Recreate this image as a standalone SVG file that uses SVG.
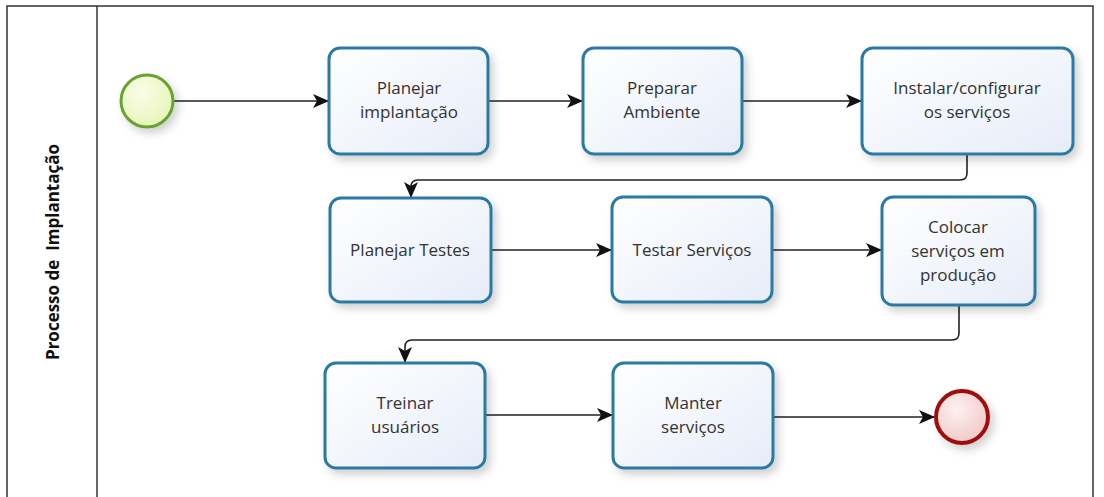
<svg xmlns="http://www.w3.org/2000/svg" width="1104" height="497" viewBox="0 0 1104 497">
<style>
.task{fill:url(#tg);stroke:#2a7aa3;stroke-width:3;filter:url(#sh)}
.t{font-family:"Open Sans","Noto Sans",sans-serif;font-size:17px;fill:#333;text-anchor:middle}
.c{fill:none;stroke:#222;stroke-width:1.6}
</style>
<defs>
<linearGradient id="tg" x1="0" y1="0" x2="1" y2="1"><stop offset="0" stop-color="#ffffff"/><stop offset="1" stop-color="#e6ecf8"/></linearGradient>
<radialGradient id="sg" cx="0.4" cy="0.35" r="0.7"><stop offset="0" stop-color="#fbfde8"/><stop offset="1" stop-color="#e6f4b8"/></radialGradient>
<radialGradient id="eg" cx="0.4" cy="0.35" r="0.7"><stop offset="0" stop-color="#fdf0f0"/><stop offset="1" stop-color="#f1c8c8"/></radialGradient>
<filter id="sh" x="-20%" y="-20%" width="150%" height="150%"><feDropShadow dx="4" dy="5" stdDeviation="4" flood-color="#000" flood-opacity="0.18"/></filter>
<marker id="a" markerWidth="16" markerHeight="16" viewBox="0 0 16 16" refX="15" refY="8" orient="auto" markerUnits="userSpaceOnUse"><path d="M0,1 L16,8 L0,15 L4,8 Z" fill="#111"/></marker>
</defs>
<rect width="1104" height="497" fill="#fff"/>
<g id="pool">
<path d="M7,497 V6 H1093 V497" fill="none" stroke="#333" stroke-width="1.5"/>
<line x1="97" y1="6" x2="97" y2="497" stroke="#333" stroke-width="1.5"/>
<text transform="translate(59,252) rotate(-90)" font-family="'Open Sans','Noto Sans',sans-serif" font-size="17" font-weight="bold" fill="#111" text-anchor="middle" xml:space="preserve">Processo de  Implantação</text>
</g>
<g id="connectors">
<line class="c" x1="174" y1="101" x2="328" y2="101" marker-end="url(#a)"/>
<line class="c" x1="488" y1="101" x2="582" y2="101" marker-end="url(#a)"/>
<line class="c" x1="742" y1="101" x2="861" y2="101" marker-end="url(#a)"/>
<path class="c" d="M967,155 V173 Q967,180 960,180 H418 Q411,180 411,187 V197" marker-end="url(#a)"/>
<line class="c" x1="491" y1="250" x2="611" y2="250" marker-end="url(#a)"/>
<line class="c" x1="772" y1="250" x2="881" y2="250" marker-end="url(#a)"/>
<path class="c" d="M959,306 V333 Q959,340 952,340 H412 Q405,340 405,347 V362" marker-end="url(#a)"/>
<line class="c" x1="485" y1="415" x2="612" y2="415" marker-end="url(#a)"/>
<line class="c" x1="773" y1="417" x2="934" y2="417" marker-end="url(#a)"/>
</g>
<g id="start"><circle cx="147" cy="101" r="26" fill="url(#sg)" stroke="#68a332" stroke-width="3" filter="url(#sh)"/></g>
<g id="end"><circle cx="962" cy="417" r="26" fill="url(#eg)" stroke="#a01010" stroke-width="4" filter="url(#sh)"/></g>
<g id="t1"><rect class="task" x="329" y="48" width="159" height="106" rx="11"/><text class="t" x="409" y="94">Planejar</text><text class="t" x="409" y="118">implantação</text></g>
<g id="t2"><rect class="task" x="583" y="48" width="159" height="106" rx="11"/><text class="t" x="662" y="94">Preparar</text><text class="t" x="662" y="118">Ambiente</text></g>
<g id="t3"><rect class="task" x="862" y="48" width="211" height="106" rx="11"/><text class="t" x="967" y="94">Instalar/configurar</text><text class="t" x="967" y="118">os serviços</text></g>
<g id="t4"><rect class="task" x="330" y="198" width="161" height="104" rx="11"/><text class="t" x="410" y="256">Planejar Testes</text></g>
<g id="t5"><rect class="task" x="612" y="197" width="160" height="105" rx="11"/><text class="t" x="692" y="256">Testar Serviços</text></g>
<g id="t6"><rect class="task" x="882" y="197" width="153" height="108" rx="11"/><text class="t" x="958" y="233">Colocar</text><text class="t" x="958" y="257">serviços em</text><text class="t" x="958" y="281">produção</text></g>
<g id="t7"><rect class="task" x="325" y="363" width="160" height="105" rx="11"/><text class="t" x="405" y="409">Treinar</text><text class="t" x="405" y="433">usuários</text></g>
<g id="t8"><rect class="task" x="613" y="363" width="160" height="105" rx="11"/><text class="t" x="693" y="409">Manter</text><text class="t" x="693" y="433">serviços</text></g>
</svg>
